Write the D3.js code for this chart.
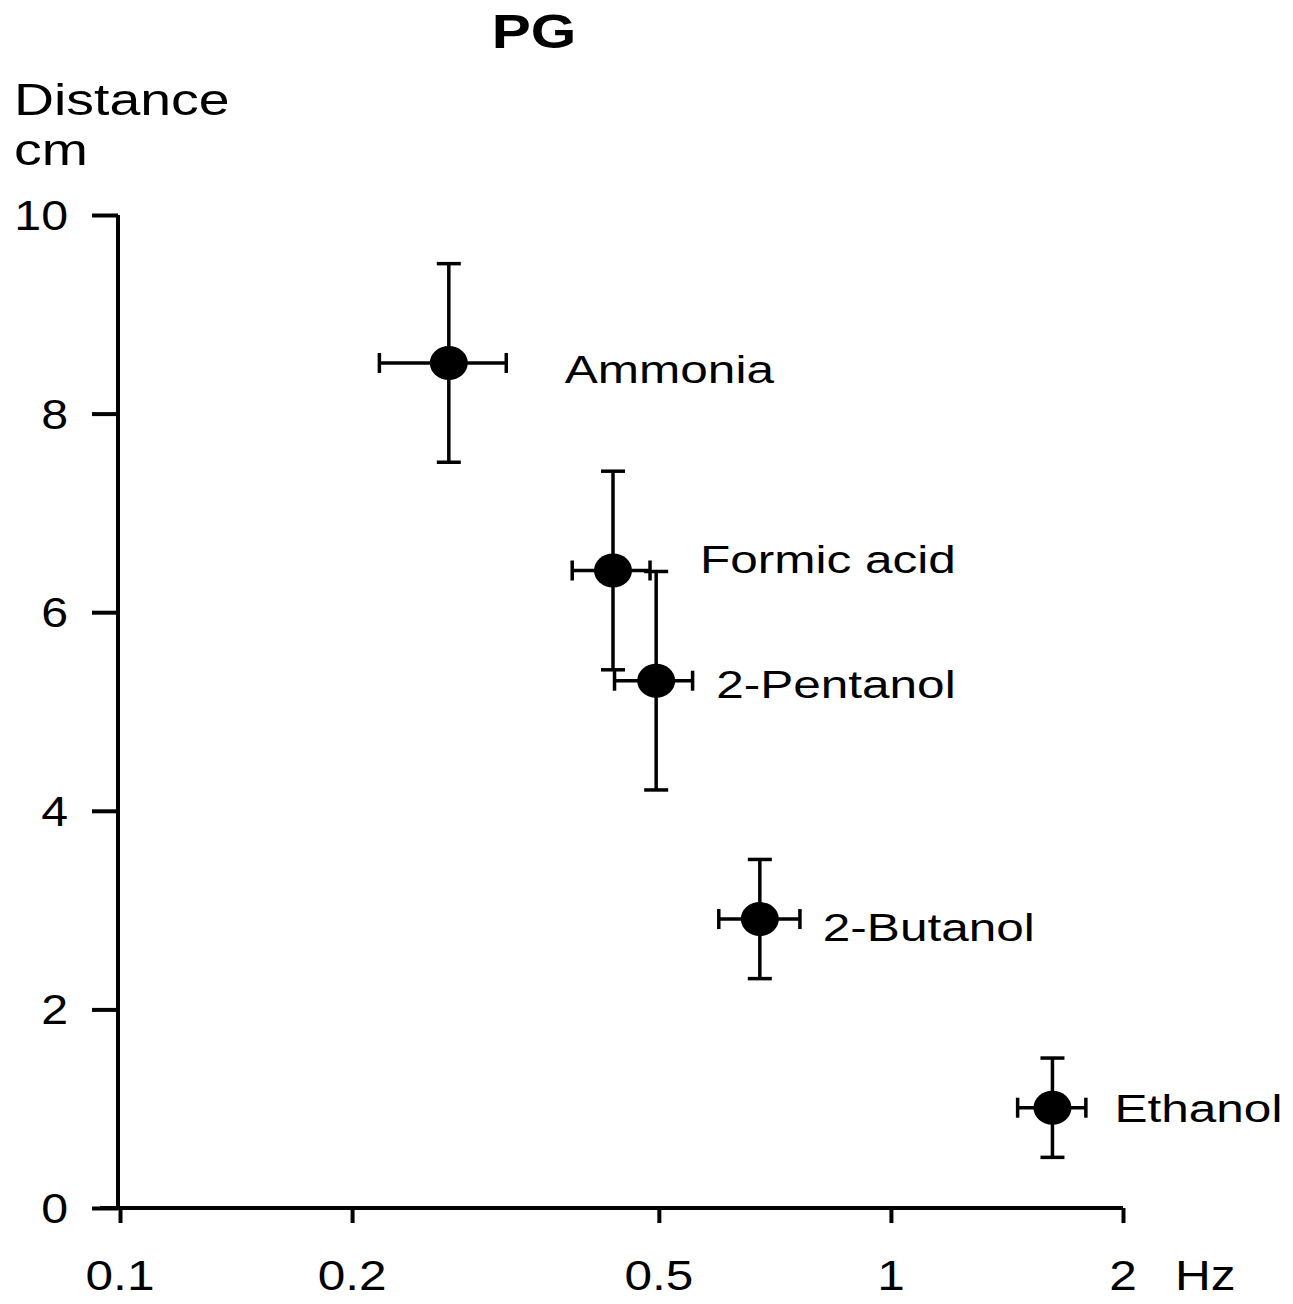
<!DOCTYPE html>
<html><head><meta charset="utf-8">
<script src="https://cdn.jsdelivr.net/npm/d3@7"></script>
<style>body{margin:0;background:#fff}svg{display:block}text{font-family:"Liberation Sans",Arial,sans-serif;fill:#000}</style>
</head><body>
<svg id="c" width="1293" height="1304"></svg>
<script>
const compounds = ["Ammonia","Formic acid","2-Pentanol","2-Butanol","Ethanol"];
const freqHz    = [0.267, 0.436, 0.496, 0.676, 1.62];
const freqLow   = [0.217, 0.386, 0.438, 0.598, 1.46];
const freqHigh  = [0.317, 0.487, 0.553, 0.762, 1.79];
const distCm    = [8.51, 6.42, 5.31, 2.91, 1.01];
const distErr   = [1.0, 1.0, 1.1, 0.6, 0.5];
const xTicks = [0.1, 0.2, 0.5, 1, 2];
const yTicks = [0, 2, 4, 6, 8, 10];

const svg = d3.select("#c");
const x = d3.scaleLog().domain([0.1, 2]).range([120, 1123]);
const y = d3.scaleLinear().domain([0, 10]).range([1208, 215]);

// stretched text helper (reference glyphs are wide)
function wtext(parent, tx, ty, str, size, sx, anchor, bold) {
  const t = parent.append("text")
    .attr("transform", `translate(${tx},${ty}) scale(${sx},1)`)
    .attr("text-anchor", anchor || "start")
    .style("font-size", size + "px").text(str);
  if (bold) t.style("font-weight", "bold");
  return t;
}

// axes
const yAxis = d3.axisLeft(y).tickValues(yTicks).tickSize(26).tickFormat("");
const gy = svg.append("g").attr("transform","translate(118,0)").call(yAxis);
gy.select(".domain").attr("d", `M0,${y(10)}V${y(0)}`).attr("stroke","#000").attr("stroke-width",4);
gy.selectAll(".tick line").attr("stroke","#000").attr("stroke-width",4);
const gyl = svg.append("g");
yTicks.forEach(v => wtext(gyl, 68, y(v) + 15, d3.format("d")(v), 42, 1.15, "end"));

const xAxis = d3.axisBottom(x).tickValues(xTicks).tickSize(15).tickFormat("");
const gx = svg.append("g").attr("transform",`translate(0,${y(0)})`).call(xAxis);
gx.select(".domain").attr("d", `M100,0H${x(2)}`).attr("stroke","#000").attr("stroke-width",4);
gx.selectAll(".tick line").attr("stroke","#000").attr("stroke-width",4);
const gxl = svg.append("g");
xTicks.forEach(v => wtext(gxl, x(v), 1290, String(v), 42, 1.18, "middle"));
wtext(svg, x(2) + 52, 1290, "Hz", 42, 1.18, "start");

// title and y label
wtext(svg, 534, 48, "PG", 48, 1.22, "middle", true);
wtext(svg, 14, 115, "Distance", 44, 1.26, "start");
wtext(svg, 14, 165, "cm", 44, 1.26, "start");

// data
const data = compounds.map((c,i) => ({c, f:freqHz[i], lo:freqLow[i], hi:freqHigh[i], d:distCm[i], e:distErr[i]}));
const g = svg.append("g").attr("stroke","#000").attr("stroke-width",3.5).attr("fill","none");
const cap = 12, hcap = 10;
data.forEach(p => {
  const cx = x(p.f), cy = y(p.d);
  const yt = y(p.d + p.e), yb = y(p.d - p.e);
  const xl = x(p.lo), xr = x(p.hi);
  g.append("line").attr("x1",cx).attr("x2",cx).attr("y1",yt).attr("y2",yb);
  g.append("line").attr("x1",cx-cap).attr("x2",cx+cap).attr("y1",yt).attr("y2",yt);
  g.append("line").attr("x1",cx-cap).attr("x2",cx+cap).attr("y1",yb).attr("y2",yb);
  g.append("line").attr("x1",xl).attr("x2",xr).attr("y1",cy).attr("y2",cy);
  g.append("line").attr("x1",xl).attr("x2",xl).attr("y1",cy-hcap).attr("y2",cy+hcap);
  g.append("line").attr("x1",xr).attr("x2",xr).attr("y1",cy-hcap).attr("y2",cy+hcap);
});
svg.append("g").selectAll("ellipse").data(data).join("ellipse")
  .attr("cx", d => x(d.f)).attr("cy", d => y(d.d)).attr("rx",19).attr("ry",17).attr("fill","#000");

const labelDx = [116, 87, 60, 63, 62];
const labelDy = [20, 3, 17, 22, 14];
const gl = svg.append("g");
data.forEach((d,i) => wtext(gl, x(d.f) + labelDx[i], y(d.d) + labelDy[i], d.c, 39, 1.27, "start"));
</script>
</body></html>
